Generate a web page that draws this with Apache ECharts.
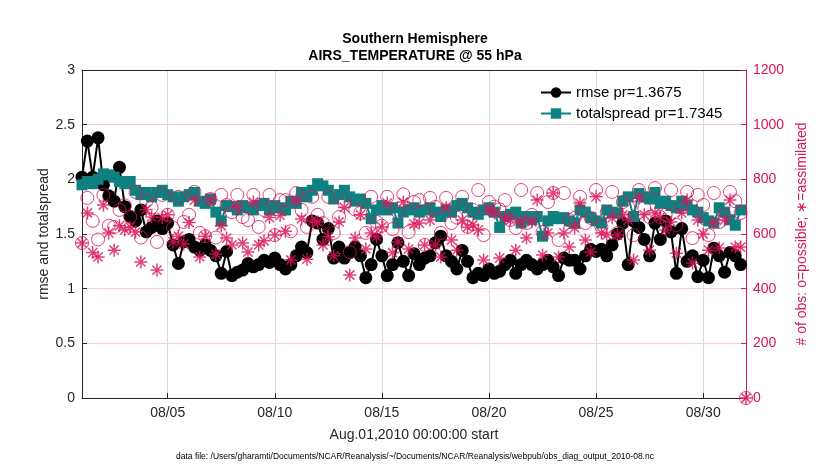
<!DOCTYPE html>
<html><head><meta charset="utf-8">
<script src="https://cdn.jsdelivr.net/npm/echarts@6/dist/echarts.min.js"></script>
<style>html,body{margin:0;padding:0;background:#fff}#c{width:830px;height:470px}</style>
</head><body><div id="c"></div>
<script>
// 6-hourly analysis times, Aug 1 2010 00Z .. Sep 1 00Z (index * 0.25 day)
const xTickDays = [4, 9, 14, 19, 24, 29];
const leftTicks = [0, 0.5, 1, 1.5, 2, 2.5, 3];
const rightTicks = [0, 200, 400, 600, 800, 1000, 1200];

const rmse = [
2.02,2.35,2.02,2.38,1.95,1.85,1.80,2.11,1.75,1.66,
1.62,1.72,1.52,1.56,1.62,1.55,1.60,1.40,1.23,1.43,
1.45,1.38,1.35,1.40,1.35,1.30,1.14,1.34,1.12,1.15,
1.17,1.23,1.20,1.22,1.26,1.24,1.28,1.22,1.18,1.22,
1.30,1.38,1.33,1.62,1.60,1.45,1.55,1.28,1.38,1.28,
1.33,1.38,1.30,1.10,1.22,1.45,1.30,1.12,1.22,1.42,
1.25,1.12,1.32,1.22,1.28,1.30,1.42,1.48,1.30,1.25,
1.18,1.35,1.25,1.10,1.14,1.12,1.18,1.14,1.16,1.22,
1.26,1.14,1.22,1.26,1.22,1.18,1.22,1.26,1.20,1.12,
1.28,1.26,1.26,1.18,1.30,1.36,1.34,1.36,1.30,1.40,
1.50,1.60,1.22,1.62,1.56,1.45,1.30,1.60,1.45,1.62,
1.52,1.14,1.55,1.25,1.30,1.11,1.26,1.10,1.37,1.30,
1.15,1.33,1.30,1.22,null];

const totalspread = [
1.95,1.98,1.96,2.00,2.05,2.04,2.02,1.98,1.96,1.98,
1.90,1.86,1.88,1.84,1.88,1.90,1.86,1.84,1.80,1.84,
1.86,1.88,1.80,1.78,1.82,1.70,1.62,1.76,1.75,1.72,
1.76,1.74,1.72,1.76,1.78,1.72,1.76,1.74,1.72,1.80,
1.78,1.88,1.84,1.90,1.96,1.94,1.90,1.82,1.86,1.90,
1.84,1.80,1.82,1.78,1.64,1.72,1.76,1.72,1.74,1.60,
1.70,1.72,1.74,1.70,1.72,1.74,1.70,1.66,1.72,1.70,
1.76,1.78,1.74,1.70,1.68,1.72,1.74,1.70,1.56,1.66,
1.68,1.70,1.60,1.66,1.63,1.66,1.48,1.62,1.66,1.64,
1.65,1.62,1.60,1.72,1.70,1.65,1.62,1.60,1.72,1.70,
1.69,1.80,1.84,1.66,1.87,1.84,1.82,1.88,1.78,1.80,
1.76,1.74,1.80,1.76,1.72,1.70,1.65,1.62,1.60,1.74,
1.70,1.63,1.58,1.72,null];

const nPossible = [
567,732,648,580,743,630,626,688,705,662,
754,587,720,697,571,743,670,622,736,644,
670,754,604,592,728,587,743,706,680,743,
662,651,743,626,688,743,596,724,724,610,
750,688,626,736,670,640,736,604,662,717,
534,690,677,604,736,644,630,736,618,680,
745,607,717,724,560,732,699,604,732,640,
660,736,626,688,761,596,717,700,690,724,
651,622,761,640,670,750,607,717,750,578,
750,651,659,736,640,659,761,626,680,754,
604,717,699,596,761,695,662,768,662,670,
761,633,699,754,585,743,706,596,750,644,
670,754,720,677,0];

const nAssimilated = [
567,677,532,516,706,604,541,630,615,625,
607,498,690,662,468,660,670,571,592,563,
642,724,516,592,724,526,630,585,560,699,
567,534,717,560,575,660,596,668,610,505,
724,655,508,648,644,560,590,520,644,697,
450,585,670,545,604,590,626,713,532,571,
717,545,636,640,560,651,560,516,697,578,
541,651,625,633,615,505,688,677,512,659,
651,541,644,585,644,724,523,604,750,516,
604,552,622,713,578,534,736,604,596,659,
596,670,651,505,732,670,541,677,662,615,
644,530,677,724,494,651,600,541,640,549,
651,724,552,552,0];

const PINK = '#d8145a';
const TEAL = '#0f8080';
const AX = '#262626';
const FONT = '"Liberation Sans", Arial, Helvetica, sans-serif';
const pair = arr => arr.map((v, i) => [i * 0.25, v]);
const ASTER = 'path://M0,5L10,5M5,0L5,10M1.46,1.46L8.54,8.54M1.46,8.54L8.54,1.46';

const chart = echarts.init(document.getElementById('c'));
chart.setOption({
  animation: false,
  textStyle: { fontFamily: FONT },
  title: {
    text: 'Southern Hemisphere\nAIRS_TEMPERATURE @ 55 hPa',
    left: 'center', top: 26,
    textStyle: { fontSize: 14, fontWeight: 'bold', color: '#000', lineHeight: 17, fontFamily: FONT }
  },
  legend: {
    data: ['rmse pr=1.3675', 'totalspread pr=1.7345'],
    orient: 'vertical', left: 535, top: 80,
    itemWidth: 30, itemHeight: 13, itemGap: 6,
    textStyle: { fontSize: 15, color: '#000', fontFamily: FONT }
  },
  grid: { left: 82, right: 84, top: 70, bottom: 72, containLabel: false },
  xAxis: [{
    type: 'value', min: 0, max: 31, position: 'bottom',
    axisLine: { show: true, onZero: false, lineStyle: { color: AX, width: 1 } },
    axisTick: { show: true, inside: true, length: 5, customValues: xTickDays, lineStyle: { color: AX } },
    axisLabel: { customValues: xTickDays, color: AX, fontSize: 14, margin: 8,
      formatter: v => '08/' + String(Math.round(v) + 1).padStart(2, '0') },
    splitLine: { show: true, lineStyle: { color: '#dadada', width: 1 } },
    name: 'Aug.01,2010 00:00:00 start', nameLocation: 'middle', nameGap: 30,
    nameTextStyle: { fontSize: 14, color: AX }
  }, {
    type: 'value', min: 0, max: 31, position: 'top',
    axisLine: { show: true, onZero: false, lineStyle: { color: AX, width: 1 } },
    axisTick: { show: false }, axisLabel: { show: false }, splitLine: { show: false }
  }],
  yAxis: [{
    type: 'value', min: 0, max: 3, interval: 0.5, position: 'left',
    axisLine: { show: true, onZero: false, lineStyle: { color: AX } },
    axisTick: { show: true, inside: true, length: 5, lineStyle: { color: AX } },
    axisLabel: { fontSize: 14, color: AX, margin: 7, formatter: v => String(v) },
    splitLine: { show: true, lineStyle: { color: '#f3cdd9', width: 1 } },
    name: 'rmse and totalspread', nameLocation: 'middle', nameGap: 31, nameRotate: 90,
    nameMoveOverlap: false,
    nameTextStyle: { fontSize: 14, color: AX }
  }, {
    type: 'value', min: 0, max: 1200, interval: 200, position: 'right',
    axisLine: { show: true, onZero: false, lineStyle: { color: PINK } },
    axisTick: { show: true, inside: true, length: 5, lineStyle: { color: PINK } },
    axisLabel: { fontSize: 14, color: PINK, margin: 7, formatter: v => String(v) },
    splitLine: { show: false },
    name: '# of obs: o=possible; \u2217=assimilated', nameLocation: 'middle', nameGap: 44, nameRotate: 90,
    nameTextStyle: { fontSize: 14, color: PINK }
  }],
  graphic: [{
    type: 'text', left: 'center', top: 452,
    style: { text: 'data file: /Users/gharamti/Documents/NCAR/Reanalysis/~/Documents/NCAR/Reanalysis/webpub/obs_diag_output_2010-08.nc',
      font: '8.5px ' + FONT, fill: '#000' }
  }],
  series: [{
    name: 'rmse pr=1.3675', type: 'line', xAxisIndex: 0, yAxisIndex: 0,
    data: pair(rmse), symbol: 'circle', symbolSize: 13, showAllSymbol: true,
    lineStyle: { color: '#000', width: 2 }, itemStyle: { color: '#000' }, z: 2
  }, {
    name: 'totalspread pr=1.7345', type: 'line', xAxisIndex: 0, yAxisIndex: 0,
    data: pair(totalspread), symbol: 'rect', symbolSize: 11, showAllSymbol: true,
    lineStyle: { color: TEAL, width: 2 }, itemStyle: { color: TEAL }, z: 3
  }, {
    name: 'possible', type: 'scatter', xAxisIndex: 0, yAxisIndex: 1,
    data: pair(nPossible), symbol: 'circle', symbolSize: 13,
    itemStyle: { color: 'rgba(0,0,0,0)', borderColor: PINK, borderWidth: 1 }, z: 4
  }, {
    name: 'assimilated', type: 'scatter', xAxisIndex: 0, yAxisIndex: 1,
    data: pair(nAssimilated), symbol: ASTER, symbolSize: 13,
    itemStyle: { color: 'rgba(0,0,0,0)', borderColor: PINK, borderWidth: 1.5 }, z: 5
  }]
});
</script></body></html>
